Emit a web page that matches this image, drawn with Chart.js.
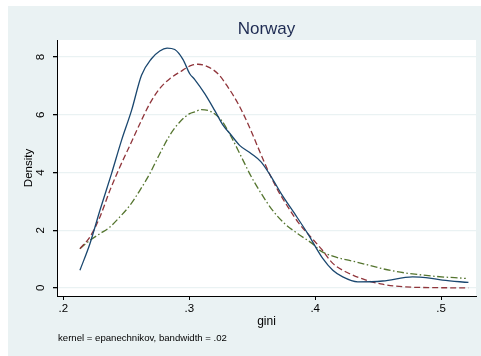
<!DOCTYPE html>
<html>
<head>
<meta charset="utf-8">
<script src="https://cdn.jsdelivr.net/npm/chart.js@4/dist/chart.umd.min.js"></script>
<style>
  html, body { margin: 0; padding: 0; background: #fff; }
  #wrap { width: 481px; height: 356px; }
</style>
</head>
<body>
<div id="wrap"><canvas id="densityChart" width="481" height="356"></canvas></div>
<script>
// kernel density (solid navy)
const kdGini = [0.2132, 0.2212, 0.2291, 0.2383, 0.2463, 0.2542, 0.2621, 0.2700, 0.2766, 0.2824, 0.2885, 0.2951, 0.3004, 0.3044, 0.3123, 0.3202, 0.3268, 0.3334, 0.3400, 0.3493, 0.3572, 0.3651, 0.3730, 0.3836, 0.3941, 0.4060, 0.4140, 0.4219, 0.4338, 0.4536, 0.4773, 0.4879, 0.5011, 0.5217];
const kdDensity = [0.61, 1.54, 2.69, 3.96, 5.12, 6.15, 7.37, 7.94, 8.21, 8.31, 8.26, 7.91, 7.42, 7.22, 6.73, 6.15, 5.64, 5.29, 4.94, 4.65, 4.36, 3.85, 3.27, 2.58, 1.88, 1.02, 0.61, 0.38, 0.21, 0.24, 0.38, 0.36, 0.27, 0.19];

// second curve (dashed maroon)
const dashGini = [0.2132, 0.2212, 0.2291, 0.2370, 0.2449, 0.2529, 0.2608, 0.2687, 0.2766, 0.2846, 0.2925, 0.3017, 0.3070, 0.3149, 0.3228, 0.3307, 0.3387, 0.3466, 0.3545, 0.3624, 0.3704, 0.3783, 0.3862, 0.3941, 0.4047, 0.4140, 0.4270, 0.4404, 0.4520, 0.4642, 0.4800, 0.4930, 0.5217];
const dashDensity = [1.36, 1.77, 2.46, 3.38, 4.19, 4.94, 5.69, 6.39, 6.91, 7.25, 7.48, 7.71, 7.75, 7.66, 7.42, 6.96, 6.39, 5.69, 4.88, 4.08, 3.38, 2.81, 2.29, 1.88, 1.36, 0.85, 0.50, 0.27, 0.14, 0.06, 0.02, 0.01, 0.0];

// third curve (dash-dot green)
const dotGini = [0.2132, 0.2212, 0.2291, 0.2370, 0.2449, 0.2529, 0.2608, 0.2687, 0.2766, 0.2846, 0.2925, 0.3004, 0.3044, 0.3097, 0.3176, 0.3255, 0.3334, 0.3414, 0.3493, 0.3572, 0.3651, 0.3757, 0.3862, 0.3993, 0.4034, 0.4140, 0.4325, 0.4615, 0.4932, 0.5196];
const dotDensity = [1.36, 1.65, 1.88, 2.11, 2.46, 2.86, 3.38, 3.96, 4.65, 5.29, 5.75, 6.04, 6.10, 6.18, 6.10, 5.81, 5.23, 4.54, 3.85, 3.27, 2.75, 2.23, 1.88, 1.48, 1.31, 1.10, 0.90, 0.59, 0.41, 0.33];

const xTicks = [0.2, 0.3, 0.4, 0.5];
const yTicks = [0, 2, 4, 6, 8];

const titleText = "Norway";
const noteText = "kernel = epanechnikov, bandwidth = .02";

const toPoints = (xs, ys) => xs.map((x, i) => ({ x: x, y: ys[i] }));

Chart.defaults.font.family = "'Liberation Sans', Arial, sans-serif";
Chart.defaults.color = "#000";

// Stata style background, title and note
const stataFrame = {
  id: "stataFrame",
  beforeDraw(chart) {
    const { ctx, chartArea: a, width, height } = chart;
    ctx.save();
    ctx.fillStyle = "#fff";
    ctx.fillRect(0, 0, width, height);
    ctx.fillStyle = "#EAF2F3";
    ctx.fillRect(8, 6, width - 8, height - 6);
    ctx.fillStyle = "#fff";
    ctx.fillRect(a.left, a.top, a.right - a.left, a.bottom - a.top);
    ctx.restore();
  },
  afterDraw(chart) {
    const { ctx, chartArea: a } = chart;
    ctx.save();
    ctx.fillStyle = "#1E2B52";
    ctx.font = "17px 'Liberation Sans', Arial, sans-serif";
    ctx.textAlign = "center";
    ctx.textBaseline = "middle";
    ctx.fillText(titleText, (a.left + a.right) / 2, 29);
    ctx.fillStyle = "#000";
    ctx.font = "9.6px 'Liberation Sans', Arial, sans-serif";
    ctx.textAlign = "left";
    ctx.fillText(noteText, 58, 338);
    ctx.restore();
  }
};

new Chart(document.getElementById("densityChart").getContext("2d"), {
  type: "line",
  data: {
    datasets: [
      {
        label: "kdensity",
        data: toPoints(kdGini, kdDensity),
        borderColor: "#1A476F",
        borderWidth: 1.3,
        pointRadius: 0,
        cubicInterpolationMode: "monotone"
      },
      {
        label: "dashed",
        data: toPoints(dashGini, dashDensity),
        borderColor: "#90353B",
        borderWidth: 1.3,
        borderDash: [6, 3],
        pointRadius: 0,
        cubicInterpolationMode: "monotone"
      },
      {
        label: "dashdot",
        data: toPoints(dotGini, dotDensity),
        borderColor: "#55752F",
        borderWidth: 1.3,
        borderDash: [7, 2.5, 1.5, 2.5],
        pointRadius: 0,
        cubicInterpolationMode: "monotone"
      }
    ]
  },
  options: {
    responsive: false,
    animation: false,
    layout: { padding: { top: 40, left: 8, right: 5, bottom: 0 } },
    plugins: {
      legend: { display: false },
      tooltip: { enabled: false }
    },
    scales: {
      x: {
        type: "linear",
        min: 0.195,
        max: 0.5277,
        afterBuildTicks: s => { s.ticks = xTicks.map(v => ({ value: v })); },
        afterFit: s => { s.height = 60; },
        ticks: {
          padding: 2,
          font: { size: 11.5 },
          callback: v => String(v).replace(/^0/, "")
        },
        grid: { drawOnChartArea: false, tickLength: 4, tickColor: "#000" },
        border: { color: "#000", width: 1 },
        title: { display: true, text: "gini", font: { size: 12 }, padding: { top: 0, bottom: 26.8 } }
      },
      y: {
        min: -0.28,
        max: 8.59,
        afterBuildTicks: s => { s.ticks = yTicks.map(v => ({ value: v })); },
        afterFit: s => { s.width = 49; },
        ticks: {
          minRotation: 90,
          maxRotation: 90,
          crossAlign: "center",
          padding: 9,
          font: { size: 11.5 }
        },
        grid: { color: "#EAF2F3", lineWidth: 1.3, tickLength: 4, tickColor: "#000" },
        border: { color: "#000", width: 1 },
        title: { display: true, text: "Density", font: { size: 11.5 }, padding: { top: 13.8, bottom: 0 } }
      }
    }
  },
  plugins: [stataFrame]
});
</script>
</body>
</html>
